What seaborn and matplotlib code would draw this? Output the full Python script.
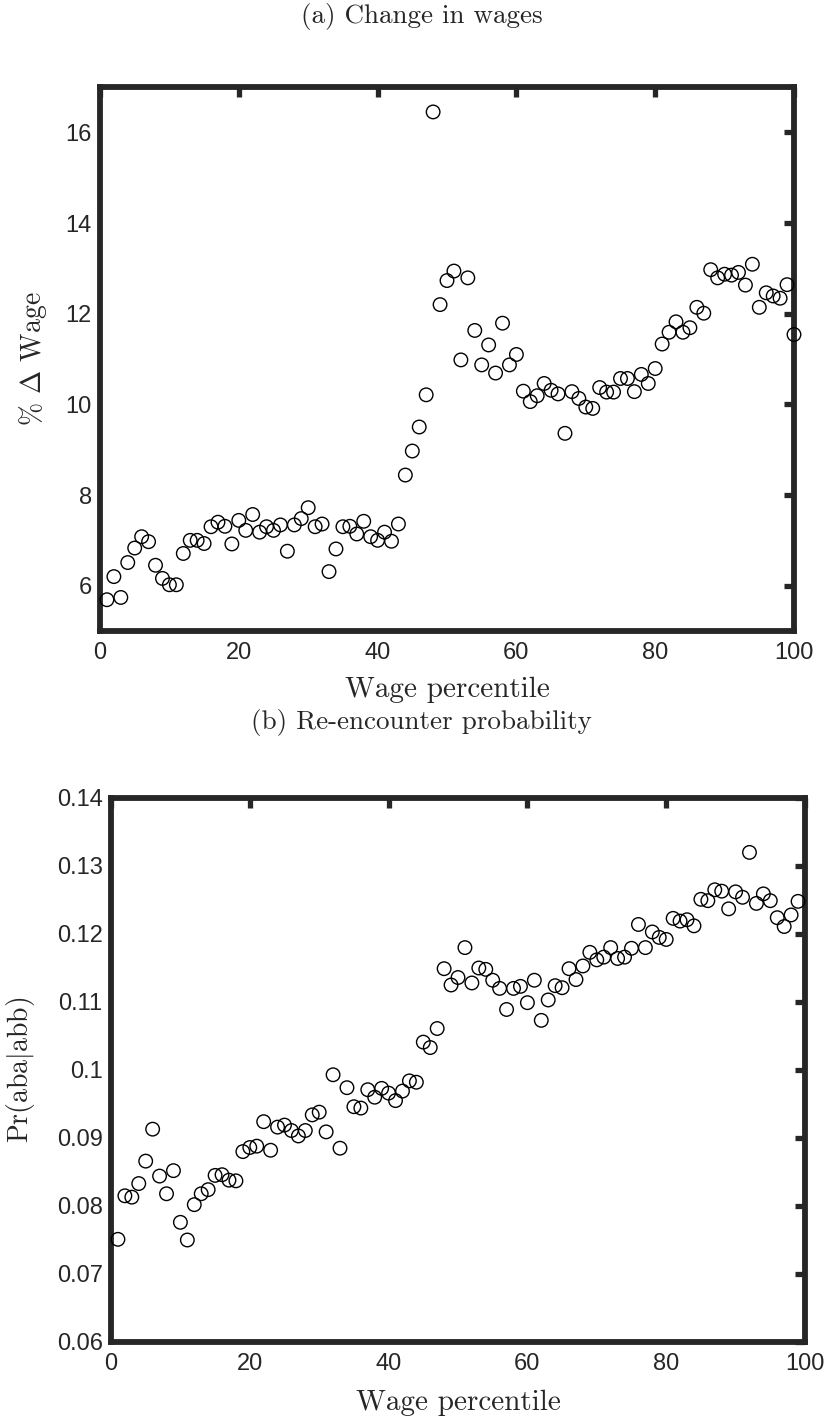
import matplotlib
matplotlib.use("Agg")
import matplotlib.pyplot as plt
import seaborn as sns
import pandas as pd

# ---- data -------------------------------------------------------------
percentile_a = list(range(1, 101))
wage_change = [5.69, 6.20, 5.74, 6.51, 6.83, 7.08, 6.97, 6.45, 6.16, 6.02,
               6.02, 6.71, 7.00, 7.00, 6.93, 7.30, 7.40, 7.31, 6.92, 7.44,
               7.22, 7.57, 7.18, 7.30, 7.22, 7.34, 6.76, 7.34, 7.48, 7.72,
               7.30, 7.36, 6.31, 6.81, 7.30, 7.31, 7.14, 7.42, 7.08, 7.00,
               7.18, 6.98, 7.36, 8.44, 8.97, 9.50, 10.21, 16.45, 12.20, 12.73,
               12.94, 10.98, 12.79, 11.63, 10.87, 11.31, 10.69, 11.79, 10.87, 11.10,
               10.29, 10.06, 10.19, 10.46, 10.31, 10.23, 9.36, 10.28, 10.13, 9.94,
               9.91, 10.37, 10.27, 10.27, 10.57, 10.57, 10.28, 10.66, 10.46, 10.79,
               11.33, 11.59, 11.82, 11.59, 11.69, 12.14, 12.01, 12.97, 12.79, 12.87,
               12.85, 12.91, 12.63, 13.09, 12.14, 12.46, 12.39, 12.34, 12.64, 11.54]

percentile_b = list(range(1, 100))
reencounter_prob = [0.0751, 0.0815, 0.0813, 0.0833, 0.0866, 0.0913, 0.0844, 0.0818, 0.0852, 0.0776,
                    0.0750, 0.0802, 0.0818, 0.0824, 0.0845, 0.0846, 0.0838, 0.0837, 0.0880, 0.0886,
                    0.0888, 0.0924, 0.0882, 0.0916, 0.0919, 0.0911, 0.0903, 0.0911, 0.0934, 0.0938,
                    0.0909, 0.0993, 0.0885, 0.0974, 0.0946, 0.0944, 0.0971, 0.0960, 0.0973, 0.0966,
                    0.0955, 0.0969, 0.0984, 0.0982, 0.1041, 0.1033, 0.1061, 0.1149, 0.1125, 0.1136,
                    0.1180, 0.1128, 0.1150, 0.1148, 0.1132, 0.1120, 0.1089, 0.1120, 0.1123, 0.1099,
                    0.1132, 0.1073, 0.1103, 0.1124, 0.1121, 0.1149, 0.1133, 0.1153, 0.1173, 0.1162,
                    0.1166, 0.1180, 0.1164, 0.1166, 0.1179, 0.1214, 0.1180, 0.1203, 0.1195, 0.1192,
                    0.1223, 0.1219, 0.1221, 0.1212, 0.1251, 0.1249, 0.1265, 0.1263, 0.1237, 0.1262,
                    0.1254, 0.1320, 0.1245, 0.1259, 0.1249, 0.1224, 0.1211, 0.1228, 0.1248]

xticks = [0, 20, 40, 60, 80, 100]
yticks_a = [6, 8, 10, 12, 14, 16]
yticks_b = [0.06, 0.07, 0.08, 0.09, 0.10, 0.11, 0.12, 0.13, 0.14]
ytick_labels_b = ["0.06", "0.07", "0.08", "0.09", "0.1", "0.11", "0.12", "0.13", "0.14"]

# ---- style ------------------------------------------------------------
sns.set_style("white")
plt.rcParams["font.family"] = ["Liberation Sans", "DejaVu Sans"]
plt.rcParams["mathtext.fontset"] = "cm"
plt.rcParams["axes.unicode_minus"] = False

SERIF = "cmr10"
SPINE = "#262626"

fig = plt.figure(figsize=(8.27, 14.18), dpi=100)
W, H = 827.0, 1418.0
ax_a = fig.add_axes([100 / W, 1 - 631 / H, 694 / W, 544 / H])
ax_b = fig.add_axes([111 / W, 1 - 1342 / H, 694 / W, 544 / H])


def draw(ax, x, y):
    df = pd.DataFrame({"x": x, "y": y})
    sns.scatterplot(data=df, x="x", y="y", ax=ax, marker="o", s=95,
                    facecolor="none", edgecolor="black", linewidth=1.0,
                    legend=False, zorder=3, clip_on=False)
    for coll in ax.collections:
        coll.set_facecolor("none")
        coll.set_edgecolor("black")


def frame(ax):
    for sp in ax.spines.values():
        sp.set_visible(True)
        sp.set_linewidth(4.2)
        sp.set_color(SPINE)
    ax.tick_params(axis="both", which="both", direction="in", length=7,
                   width=3.8, color=SPINE, labelsize=17, labelcolor="#262626",
                   top=True, right=True)
    ax.tick_params(axis="x", pad=8)
    ax.tick_params(axis="y", pad=6)


# (a) change in wages
draw(ax_a, percentile_a, wage_change)
ax_a.set_xlim(0, 100)
ax_a.set_ylim(5, 17)
ax_a.set_xticks(xticks)
ax_a.set_yticks(yticks_a)
frame(ax_a)
ax_a.set_xlabel("Wage percentile", family=SERIF, fontsize=21)
ax_a.set_ylabel(r"% $\Delta$ Wage", family=SERIF, fontsize=20)
ax_a.xaxis.set_label_coords(0.5, -0.108)
ax_a.yaxis.set_label_coords(-0.097, 0.5)
ax_a.xaxis.label.set_va("center")
ax_a.yaxis.label.set_va("center")

# (b) re-encounter probability
draw(ax_b, percentile_b, reencounter_prob)
ax_b.set_xlim(0, 100)
ax_b.set_ylim(0.06, 0.14)
ax_b.set_xticks(xticks)
ax_b.set_yticks(yticks_b)
ax_b.set_yticklabels(ytick_labels_b)
frame(ax_b)
ax_b.set_xlabel("Wage percentile", family=SERIF, fontsize=21)
ax_b.set_ylabel(r"$\mathrm{Pr(aba}|\mathrm{abb)}$", fontsize=20)
ax_b.xaxis.set_label_coords(0.5, -0.112)
ax_b.yaxis.set_label_coords(-0.13, 0.5)
ax_b.xaxis.label.set_va("center")
ax_b.yaxis.label.set_va("center")

fig.text(0.51, 1 - 16 / H, "(a) Change in wages", family=SERIF, fontsize=19.5,
         ha="center", va="center")
fig.text(0.51, 1 - 722 / H, "(b) Re-encounter probability", family=SERIF,
         fontsize=19.5, ha="center", va="center")

fig.savefig("out.png", dpi=100, facecolor="white")
